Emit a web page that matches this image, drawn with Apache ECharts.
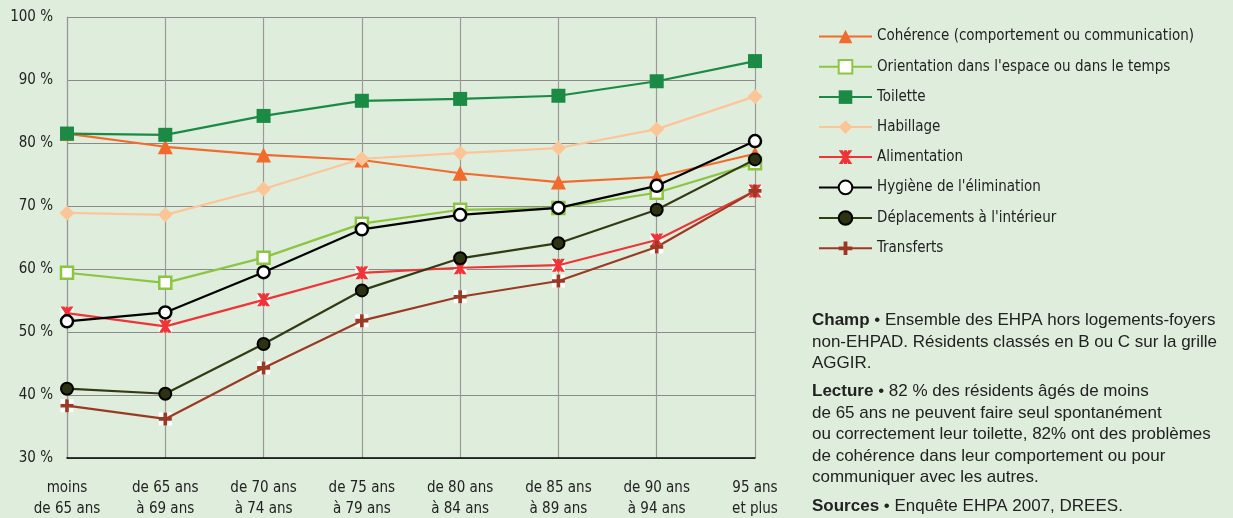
<!DOCTYPE html>
<html><head><meta charset="utf-8">
<script src="https://cdn.jsdelivr.net/npm/echarts@6/dist/echarts.min.js"></script>
<style>html,body{margin:0;padding:0;background:#dfeedc}#c{width:1233px;height:518px}</style>
</head><body><div id="c"></div>
<script>
const categories = ['moins\nde 65 ans','de 65 ans\nà 69 ans','de 70 ans\nà 74 ans','de 75 ans\nà 79 ans','de 80 ans\nà 84 ans','de 85 ans\nà 89 ans','de 90 ans\nà 94 ans','95 ans\net plus'];
const coherence    = [81.5, 79.4, 78.1, 77.3, 75.2, 73.8, 74.6, 78.3];
const orientation  = [59.4, 57.8, 61.8, 67.2, 69.4, 69.7, 72.1, 76.8];
const toilette     = [81.5, 81.3, 84.3, 86.7, 87.0, 87.5, 89.8, 93.0];
const habillage    = [68.9, 68.6, 72.7, 77.5, 78.4, 79.2, 82.2, 87.4];
const alimentation = [53.0, 50.9, 55.1, 59.4, 60.2, 60.6, 64.6, 72.4];
const hygiene      = [51.7, 53.1, 59.5, 66.3, 68.6, 69.7, 73.2, 80.3];
const deplacements = [41.0, 40.2, 48.1, 56.6, 61.7, 64.1, 69.4, 77.4];
const transferts   = [38.3, 36.2, 44.3, 51.8, 55.6, 58.1, 63.5, 72.4];
const seriesNames = ['Cohérence (comportement ou communication)','Orientation dans l\'espace ou dans le temps','Toilette','Habillage','Alimentation','Hygiène de l\'élimination','Déplacements à l\'intérieur','Transferts'];
const yTicks = [30,40,50,60,70,80,90,100];

const asterisk = 'path://M0,0 L3,0 L5,3 L7,0 L10,0 L6.6,5 L10,10 L7,10 L5,7 L3,10 L0,10 L3.4,5 Z M3.9,0 L6.1,0 L6.1,10 L3.9,10 Z';
const plus = 'path://M3.6,0 L6.4,0 L6.4,3.6 L10,3.6 L10,6.4 L6.4,6.4 L6.4,10 L3.6,10 L3.6,6.4 L0,6.4 L0,3.6 L3.6,3.6 Z';

function mk(name, data, color, symbol, size, itemStyle, z){
  return {name, type:'line', data, symbol, symbolSize:size, z:z||2,
    lineStyle:{color, width:2.2}, itemStyle:Object.assign({color}, itemStyle||{}),
    emphasis:{disabled:true}, animation:false};
}
function backing(data, size, z){
  return {name:'_bg'+z, type:'line', data, symbol:'rect', symbolSize:size, z,
    lineStyle:{width:0, opacity:0}, itemStyle:{color:'#ffffff'}, emphasis:{disabled:true},
    animation:false, silent:true, legendHoverLink:false, tooltip:{show:false}};
}
const chart = echarts.init(document.getElementById('c'));
const narrow = "'Liberation Sans Narrow','DejaVu Sans Condensed',sans-serif";
const sans = "'Liberation Sans',Arial,sans-serif";
chart.setOption({
  backgroundColor:'#dfeedc',
  animation:false,
  grid:{left:67, right:478, top:17, bottom:60, containLabel:false, outerBoundsMode:'none'},
  xAxis:{type:'category', data:categories, boundaryGap:false,
    axisLine:{lineStyle:{color:'#000', width:1.5}}, axisTick:{show:false},
    splitLine:{show:true, lineStyle:{color:'#9a9a9a', width:1.2}},
    axisLabel:{color:'#222', fontFamily:narrow, fontSize:15, lineHeight:21, margin:20, interval:0}},
  yAxis:{type:'value', min:30, max:100, interval:10,
    axisLine:{show:true, lineStyle:{color:'#9a9a9a', width:1.2}}, axisTick:{show:false},
    splitLine:{lineStyle:{color:'#8a8a8a', width:1.2}},
    axisLabel:{color:'#222', fontFamily:narrow, fontSize:15, margin:14, formatter:v=>yTicks.includes(v)?v+' %':''}},
  legend:{orient:'vertical', left:813, top:24, itemWidth:53, itemHeight:17, itemGap:15,
    textStyle:{color:'#222', fontFamily:narrow, fontSize:15},
    data:seriesNames, selectedMode:false},
  series:[
    backing(alimentation, 13, 2.9),
    backing(transferts, 13, 2.8),
    mk(seriesNames[0], coherence, '#f26b2d', 'triangle', 15, null, 3),
    mk(seriesNames[1], orientation, '#8cc542', 'rect', 12, {color:'#ffffff', borderColor:'#8cc542', borderWidth:2.5}, 3),
    mk(seriesNames[2], toilette, '#1b8a45', 'rect', 14, null, 4),
    mk(seriesNames[3], habillage, '#fcc598', 'diamond', 15, null, 3),
    mk(seriesNames[4], alimentation, '#ee3436', asterisk, 13, null, 3),
    mk(seriesNames[5], hygiene, '#000000', 'circle', 12, {color:'#ffffff', borderColor:'#000', borderWidth:2.5}, 5),
    mk(seriesNames[6], deplacements, '#333a14', 'circle', 12, {color:'#2d3210', borderColor:'#000', borderWidth:2}, 4),
    mk(seriesNames[7], transferts, '#9b3a24', plus, 13, null, 3)
  ],
  graphic:[{
    type:'text', left:812, top:310,
    style:{text:'{b|Champ} • Ensemble des EHPA hors logements-foyers\nnon-EHPAD. Résidents classés en B ou C sur la grille\nAGGIR.',
      fill:'#222', font:"17px "+sans, lineHeight:21.5,
      rich:{b:{fontWeight:'bold', fontSize:17, fontFamily:sans, fill:'#222'}}}
  },{
    type:'text', left:812, top:381,
    style:{text:'{b|Lecture} • 82 % des résidents âgés de moins\nde 65 ans ne peuvent faire seul spontanément\nou correctement leur toilette, 82% ont des problèmes\nde cohérence dans leur comportement ou pour\ncommuniquer avec les autres.',
      fill:'#222', font:"17px "+sans, lineHeight:21.5,
      rich:{b:{fontWeight:'bold', fontSize:17, fontFamily:sans, fill:'#222'}}}
  },{
    type:'text', left:812, top:496,
    style:{text:'{b|Sources} • Enquête EHPA 2007, DREES.',
      fill:'#222', font:"17px "+sans, lineHeight:21.5,
      rich:{b:{fontWeight:'bold', fontSize:17, fontFamily:sans, fill:'#222'}}}
  }]
});
</script></body></html>
